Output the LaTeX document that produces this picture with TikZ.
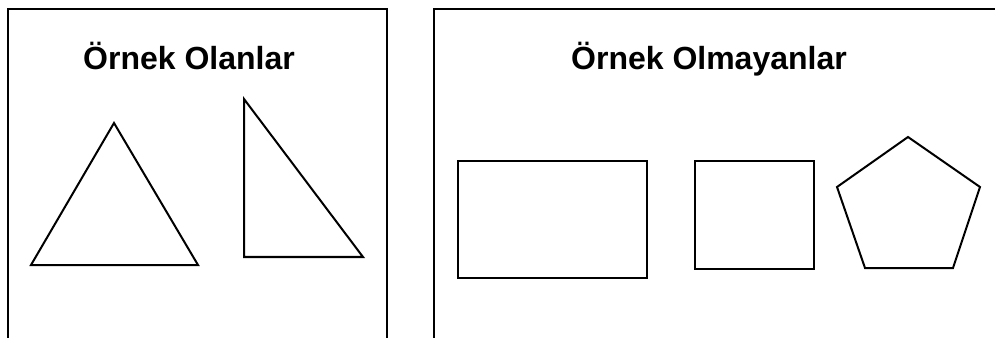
\documentclass[tikz,border=0pt]{standalone}
\usepackage{fontspec}
\setmainfont{Liberation Sans}
\begin{document}
\begin{tikzpicture}[x={(0.75pt,0)},y={(0,-0.75pt)},
  frame/.style={line width=1.6pt,black},
  figline/.style={line width=1.5pt,black,line join=miter},
  title/.style={anchor=base,inner sep=0pt,font=\fontsize{24}{28}\selectfont\bfseries}]
\useasboundingbox (0,0) rectangle (995,338);
% frames
\draw[frame] (8,340) -- (8,9) -- (387,9) -- (387,340);
\draw[frame] (434,340) -- (434,9) -- (997,9);
% titles
\node[title] (t1) at (189,70) {Örnek Olanlar};
\node[title] (t2) at (709,70) {Örnek Olmayanlar};
% left shapes
\draw[figline] (114,123) -- (198,265) -- (31,265) -- cycle;
\draw[figline] (244,99) -- (363,257) -- (244,257) -- cycle;
% right shapes
\draw[figline] (458,161) rectangle (647,278);
\draw[figline] (695,161) rectangle (814,269);
\draw[figline] (908,137) -- (980,187) -- (953,268) -- (865,268) -- (837,187) -- cycle;
\end{tikzpicture}
\end{document}
